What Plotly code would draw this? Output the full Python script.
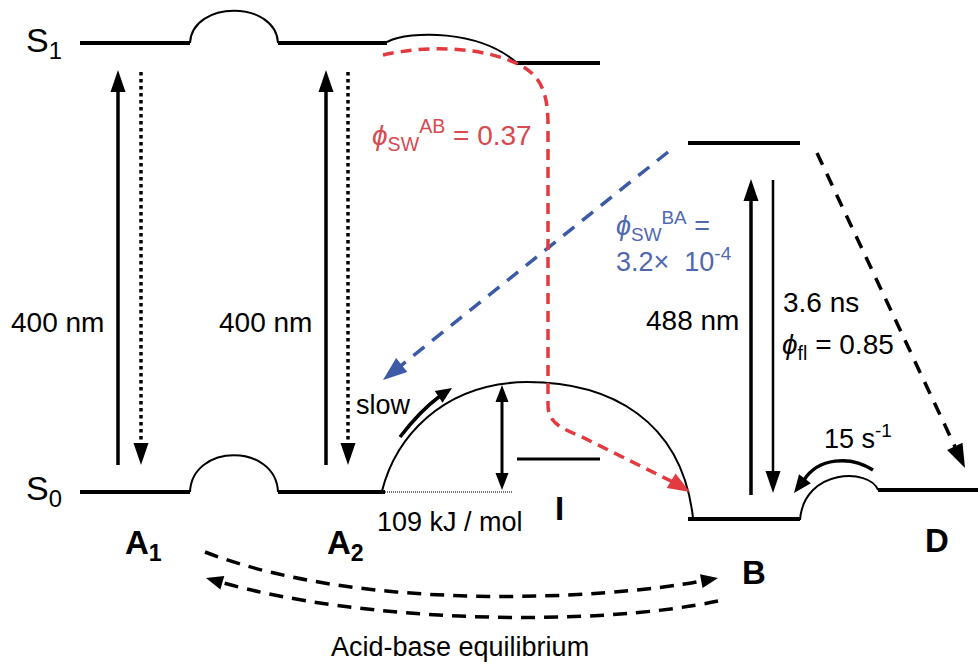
import math
import plotly.graph_objects as go

W, H = 978, 666
FONT = "Liberation Sans, Arial, sans-serif"
RED = "#e23a3f"
BLUE = "#3c5aa6"
RED_TXT = "#d84a4f"
BLUE_TXT = "#5068b0"

# ---- energy levels (x start, x end, y) ----
level_x0 = [80, 278, 517, 688, 80, 278, 688, 878, 517]
level_x1 = [190, 387, 600, 800, 190, 385, 800, 978, 600]
level_y = [43, 43, 63, 143, 492, 492, 519, 490, 459]
level_w = [4, 4, 4, 4, 4, 4, 4, 4, 3]

# ---- barriers (cubic bezier control points) ----
barriers = [
    [(190, 43), (192, 0), (276, 0), (278, 43)],
    [(387, 42), (410, 30), (480, 30), (517, 63)],
    [(190, 492), (192, 443), (276, 443), (278, 492)],
    [(382, 491), (395, 440), (440, 383), (527, 382)],
    [(527, 382), (610, 382), (682, 420), (693, 518)],
    [(800, 520), (804, 468), (870, 468), (878, 490)],
]

# ---- straight arrows: (start, tip, width, dash, color, head L, head W) ----
straight_arrows = [
    ((118, 465), (118, 70), 3.5, "solid", "black", 22, 15),
    ((326, 465), (326, 70), 3.5, "solid", "black", 22, 15),
    ((141, 72), (141, 465), 3.5, "dot", "black", 22, 15),
    ((348, 72), (348, 465), 3.5, "dot", "black", 22, 15),
    ((751, 495), (751, 179), 3.5, "solid", "black", 22, 15),
    ((773, 180), (773, 493), 2.5, "solid", "black", 22, 15),
    ((502, 437), (502, 385), 3, "solid", "black", 17, 13),
    ((502, 437), (502, 490), 3, "solid", "black", 17, 13),
    ((668, 152), (383, 380), 3.5, "14px,10px", BLUE, 24, 18),
    ((817, 153), (965, 468), 3.5, "13px,10px", "black", 24, 17),
]

# ---- curved arrows: path commands, tip, width, dash, color, head L, head W ----
curved_arrows = [
    (["M", (383, 55), "C", (430, 44), (490, 47), (525, 68),
      "C", (544, 80), (548, 100), (548, 125), "L", (548, 405),
      "C", (548, 422), (560, 428), (580, 436), "L", (675, 483)],
     (690, 492), 3.5, "11px,7px", RED, 22, 17),
    (["M", (400, 437), "C", (413, 420), (428, 405), (440, 396)],
     (452, 388), 3.5, "solid", "black", 16, 14),
    (["M", (873, 470), "C", (850, 455), (818, 458), (804, 480)],
     (794, 493), 3.5, "solid", "black", 18, 15),
    (["M", (205, 552), "C", (360, 612), (600, 600), (702, 581)],
     (718, 578), 3.5, "14px,9px", "black", 17, 14),
    (["M", (718, 601), "C", (590, 628), (360, 622), (220, 582)],
     (206, 578), 3.5, "14px,9px", "black", 17, 14),
]

# ---- text labels ----
label_text = [
    "S<sub>1</sub>", "S<sub>0</sub>",
    "<b>A<sub>1</sub></b>", "<b>A<sub>2</sub></b>", "<b>B</b>", "<b>D</b>", "<b>I</b>",
    "400 nm", "400 nm", "488 nm", "3.6 ns",
    "<i>ϕ</i><sub>fl</sub> = 0.85", "15 s<sup>-1</sup>",
    "slow", "109 kJ / mol", "Acid-base equilibrium",
    "<i>ϕ</i><sub>SW</sub><sup>AB</sup> = 0.37",
    "<i>ϕ</i><sub>SW</sub><sup>BA</sup> =", "3.2×  10<sup>-4</sup>",
]
label_x = [44, 44, 143, 345, 754, 937, 559, 57, 265, 692, 821, 838, 858,
           383, 450, 460, 452, 663, 673]
label_y = [42, 490, 545, 545, 572, 540, 508, 322, 322, 320, 302, 346, 437,
           405, 522, 647, 135, 226, 260]
label_size = [34, 34, 33, 33, 33, 33, 33, 28, 28, 28, 28, 28, 27,
              27, 27, 27, 28, 27, 27]
label_color = ["black"] * 16 + [RED_TXT, BLUE_TXT, BLUE_TXT]


def fmt(p):
    return f"{p[0]},{p[1]}"


def head_path(tip, frm, L, Wd):
    dx, dy = tip[0] - frm[0], tip[1] - frm[1]
    n = math.hypot(dx, dy)
    ux, uy = dx / n, dy / n
    bx, by = tip[0] - ux * L, tip[1] - uy * L
    px, py = -uy * Wd / 2, ux * Wd / 2
    path = f"M {fmt(tip)} L {bx + px},{by + py} L {bx - px},{by - py} Z"
    return path, (tip[0] - ux * L * 0.8, tip[1] - uy * L * 0.8)


fig = go.Figure()
shapes = []

for x0, x1, y, w in zip(level_x0, level_x1, level_y, level_w):
    fig.add_trace(go.Scatter(x=[x0, x1], y=[y, y], mode="lines",
                             line=dict(color="black", width=w),
                             hoverinfo="skip", showlegend=False))

# dotted reference line under the 109 kJ/mol barrier
fig.add_trace(go.Scatter(x=[385, 513], y=[492, 492], mode="lines",
                         line=dict(color="#444", width=1.5, dash="1px,1px"),
                         hoverinfo="skip", showlegend=False))

for b in barriers:
    p = f"M {fmt(b[0])} C {fmt(b[1])} {fmt(b[2])} {fmt(b[3])}"
    shapes.append(dict(type="path", path=p, xref="x", yref="y",
                       line=dict(color="black", width=2)))

for start, tip, w, dash, col, L, Wd in straight_arrows:
    hp, base = head_path(tip, start, L, Wd)
    shapes.append(dict(type="line", x0=start[0], y0=start[1], x1=base[0], y1=base[1],
                       xref="x", yref="y", line=dict(color=col, width=w, dash=dash)))
    shapes.append(dict(type="path", path=hp, xref="x", yref="y",
                       fillcolor=col, line=dict(width=0)))

for cmds, tip, w, dash, col, L, Wd in curved_arrows:
    parts = []
    last = None
    for c in cmds:
        if isinstance(c, str):
            parts.append(c)
        else:
            parts.append(fmt(c))
            last = c
    shapes.append(dict(type="path", path=" ".join(parts), xref="x", yref="y",
                       line=dict(color=col, width=w, dash=dash)))
    hp, base = head_path(tip, last, L, Wd)
    shapes.append(dict(type="path", path=hp, xref="x", yref="y",
                       fillcolor=col, line=dict(width=0)))

annotations = []
for t, x, y, s, c in zip(label_text, label_x, label_y, label_size, label_color):
    annotations.append(dict(text=t, x=x, y=y, xref="x", yref="y", showarrow=False,
                            xanchor="center", yanchor="middle",
                            font=dict(family=FONT, size=s, color=c)))

fig.update_layout(
    width=W, height=H, margin=dict(l=0, r=0, t=0, b=0),
    paper_bgcolor="white", plot_bgcolor="white",
    xaxis=dict(range=[0, W], visible=False, fixedrange=True),
    yaxis=dict(range=[H, 0], visible=False, fixedrange=True),
    shapes=shapes, annotations=annotations, showlegend=False,
)

fig.write_html("out.html")
